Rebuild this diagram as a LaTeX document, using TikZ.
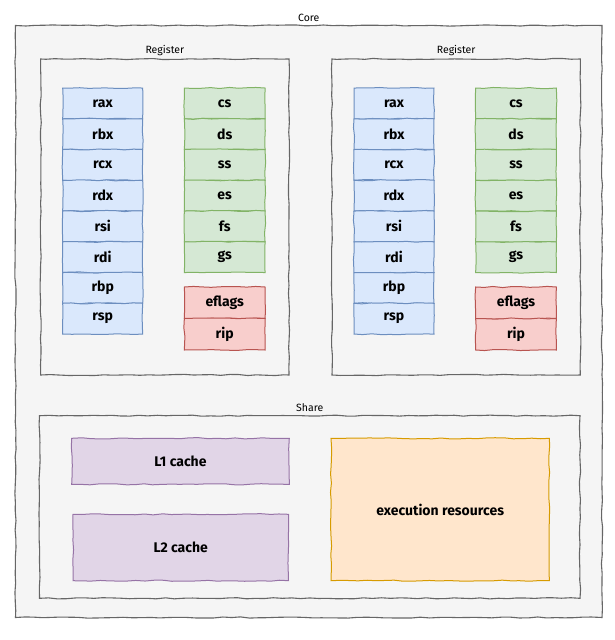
\documentclass[tikz,border=0pt]{standalone}
\usepackage{fontspec}
\setmainfont{Fira Sans}
\usetikzlibrary{decorations.pathmorphing}
\definecolor{bfill}{HTML}{DAE8FC}\definecolor{bline}{HTML}{6C8EBF}
\definecolor{gfill}{HTML}{D5E8D4}\definecolor{gline}{HTML}{82B366}
\definecolor{rfill}{HTML}{F8CECC}\definecolor{rline}{HTML}{B85450}
\definecolor{pfill}{HTML}{E1D5E7}\definecolor{pline}{HTML}{9673A6}
\definecolor{ofill}{HTML}{FFE6CC}\definecolor{oline}{HTML}{D79B00}
\definecolor{cfill}{HTML}{F5F5F5}\definecolor{cline}{HTML}{666666}
\tikzset{
  sketch/.style={decorate,decoration={random steps,segment length=9pt,amplitude=0.6pt}},
  box/.style={rectangle,sketch,line width=1pt,inner sep=0pt,font=\bfseries\fontsize{14}{16}\selectfont},
  container/.style={box,draw=cline,fill=cfill,line width=1.1pt},
  bluecell/.style={box,draw=bline,fill=bfill,minimum width=80pt,minimum height=30.75pt},
  greencell/.style={box,draw=gline,fill=gfill,minimum width=80.7pt,minimum height=30.75pt},
  redcell/.style={box,draw=rline,fill=rfill,minimum width=80.7pt,minimum height=31.5pt},
  lbl/.style={font=\fontsize{10.5}{12}\selectfont,inner sep=0pt}
}
\begin{document}
\begin{tikzpicture}[x=1pt,y=-1pt]
\useasboundingbox[fill=white] (0,0) rectangle (614,640);
\node[container,minimum width=586.5pt,minimum height=592pt] (core) at (308.75,321.5) {};
\node[lbl] (corel) at (308.75,18) {Core};
\foreach \s/\dx in {1/0,2/291.3}{
  \node[container,minimum width=248.3pt,minimum height=316pt] (reg\s) at (164.85+\dx,217) {};
  \node[lbl] (regl\s) at (164.85+\dx,51) {Register};
  \foreach \t [count=\i from 0] in {rax,rbx,rcx,rdx,rsi,rdi,rbp,rsp}
    \node[bluecell] (\t\s) at (102.7+\dx,103.4+30.75*\i) {\t};
  \foreach \t [count=\i from 0] in {cs,ds,ss,es,fs,gs}
    \node[greencell] (\t\s) at (224.7+\dx,103.4+30.75*\i) {\t};
  \foreach \t [count=\i from 0] in {eflags,rip}
    \node[redcell] (\t\s) at (224.7+\dx,302.75+31.5*\i) {\t};
}
\node[container,minimum width=540.5pt,minimum height=182.6pt] (share) at (309.75,507) {};
\node[lbl] (sharel) at (309.75,408) {Share};
\node[box,draw=pline,fill=pfill,minimum width=217.6pt,minimum height=46pt] (l1) at (180.5,461.3) {L1 cache};
\node[box,draw=pline,fill=pfill,minimum width=215.5pt,minimum height=66.4pt] (l2) at (180.75,547.5) {L2 cache};
\node[box,draw=oline,fill=ofill,minimum width=218.3pt,minimum height=142.4pt] (exec) at (440.15,509.5) {execution resources};
\end{tikzpicture}
\end{document}
